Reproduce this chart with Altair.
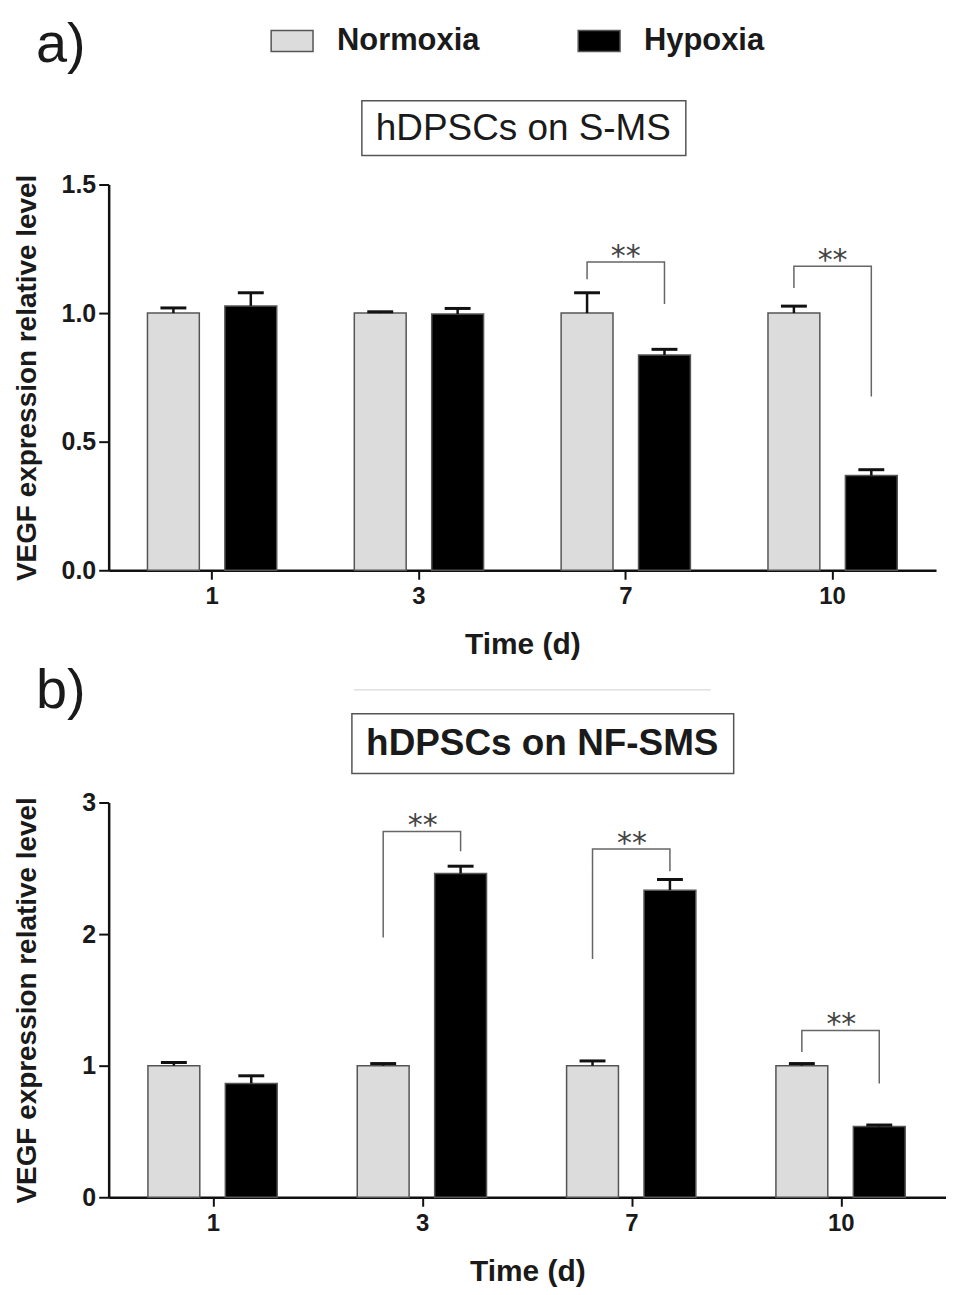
import altair as alt
import pandas as pd

# ---------------- data ----------------
days = ["1", "3", "7", "10"]
groups = ["Normoxia", "Hypoxia"]

a_normoxia = [1.00, 1.00, 1.00, 1.00]
a_normoxia_err = [0.020, 0.005, 0.079, 0.027]
a_hypoxia = [1.028, 0.996, 0.837, 0.368]
a_hypoxia_err = [0.051, 0.022, 0.022, 0.023]

b_normoxia = [1.00, 1.00, 1.00, 1.00]
b_normoxia_err = [0.025, 0.016, 0.036, 0.016]
b_hypoxia = [0.865, 2.46, 2.334, 0.537]
b_hypoxia_err = [0.058, 0.056, 0.081, 0.012]

# significance brackets: left leg bottom, bracket top, right leg bottom
a_sig_days = ["7", "10"]
a_sig_left = [1.132, 1.098]
a_sig_top = [1.199, 1.182]
a_sig_right = [1.035, 0.676]

b_sig_days = ["3", "7", "10"]
b_sig_left = [1.974, 1.81, 1.104]
b_sig_top = [2.78, 2.647, 1.268]
b_sig_right = [2.63, 2.478, 0.865]

a_ticks = [0.0, 0.5, 1.0, 1.5]
b_ticks = [0, 1, 2, 3]

FONT = "Liberation Sans"


def bar_table(nv, ne, hv, he):
    rows = []
    for i, d in enumerate(days):
        rows.append({"day": d, "group": "Normoxia", "value": nv[i], "upper": nv[i] + ne[i]})
        rows.append({"day": d, "group": "Hypoxia", "value": hv[i], "upper": hv[i] + he[i]})
    return pd.DataFrame(rows)


def bracket_table(sd, sl, st, sr):
    rows = []
    for i, d in enumerate(sd):
        rows.append({"id": i, "day": d, "group": "Normoxia", "value": sl[i], "o": 0})
        rows.append({"id": i, "day": d, "group": "Normoxia", "value": st[i], "o": 1})
        rows.append({"id": i, "day": d, "group": "Hypoxia", "value": st[i], "o": 2})
        rows.append({"id": i, "day": d, "group": "Hypoxia", "value": sr[i], "o": 3})
    return pd.DataFrame(rows)


def one():
    return pd.DataFrame({"k": [0]})


letter_y = {"a)": -140, "b)": -112}


def panel(bars, brackets, stars, ymax, ticks, fmt, w, h, letter, title, title_bold,
          box, title_xy, show_legend, extra_rule=None):
    x_enc = alt.X("day:N", sort=days,
                  scale=alt.Scale(domain=days, paddingInner=0.375, paddingOuter=0.1875),
                  axis=alt.Axis(title="Time (d)", labelAngle=0, titleFontSize=30,
                                titleX=w / 2, titleY=84, titleBaseline="alphabetic",
                                titleAlign="center", labelPadding=5, tickSize=9,
                                labelFontSize=24))
    xo_enc = alt.XOffset("group:N", sort=groups,
                         scale=alt.Scale(domain=groups, paddingInner=0.33, paddingOuter=0))
    y_axis = alt.Axis(title="VEGF expression relative level", values=ticks, format=fmt,
                      titleFontSize=28, titleX=-73, titleY=h / 2, titleAngle=270,
                      titleBaseline="alphabetic", titleAlign="center",
                      labelPadding=3, tickSize=10, labelFontSize=25)
    y_scale = alt.Scale(domain=[0, ymax], nice=False, zero=True)

    if show_legend:
        legend = alt.Legend(title=None, orient="none", legendX=162, legendY=-166,
                            direction="horizontal",
                            symbolType="M-1,-0.5H1V0.5H-1Z", symbolSize=1764,
                            symbolStrokeColor="#555555", symbolStrokeWidth=1.5,
                            symbolOpacity=1, labelFont=FONT, labelFontWeight="bold",
                            labelFontSize=31, labelColor="#1a1a1a", labelOffset=23,
                            columnPadding=96)
    else:
        legend = None
    color = alt.Color("group:N", sort=groups,
                      scale=alt.Scale(domain=groups, range=["#dcdcdc", "#000000"]),
                      legend=legend)

    bar_layer = alt.Chart(bars).mark_bar(stroke="#555555", strokeWidth=1.5, opacity=1).encode(
        x=x_enc, xOffset=xo_enc,
        y=alt.Y("value:Q", scale=y_scale, axis=y_axis),
        color=color,
    )
    err_layer = alt.Chart(bars).mark_rule(color="#111111", strokeWidth=2.5).encode(
        x=x_enc, xOffset=xo_enc,
        y=alt.Y("value:Q", scale=y_scale, axis=y_axis),
        y2="upper:Q",
    )
    cap_layer = alt.Chart(bars).mark_tick(color="#111111", thickness=3, size=26,
                                          orient="horizontal", opacity=1).encode(
        x=x_enc, xOffset=xo_enc,
        y=alt.Y("upper:Q", scale=y_scale, axis=y_axis),
    )
    bracket_layer = alt.Chart(brackets).mark_line(color="#666666", strokeWidth=1.5).encode(
        x=x_enc, xOffset=xo_enc,
        y=alt.Y("value:Q", scale=y_scale, axis=y_axis),
        detail="id:N", order="o:Q",
    )
    star_layer = alt.Chart(stars).mark_text(text="**", font="DejaVu Sans", fontSize=30,
                                            color="#444444", baseline="alphabetic",
                                            align="center", dy=4).encode(
        x=x_enc,
        y=alt.Y("value:Q", scale=y_scale, axis=y_axis),
    )
    box_layer = alt.Chart(one()).mark_rect(fill="white", stroke="#555555",
                                           strokeWidth=1.5).encode(
        x=alt.value(box[0]), x2=alt.value(box[1]),
        y=alt.value(box[2]), y2=alt.value(box[3]),
    )
    title_layer = alt.Chart(one()).mark_text(
        text=title, font=FONT, fontSize=37,
        fontWeight="bold" if title_bold else "normal", color="#1a1a1a",
        align="center", baseline="middle").encode(
        x=alt.value(title_xy[0]), y=alt.value(title_xy[1]))
    letter_layer = alt.Chart(one()).mark_text(
        text=letter, font=FONT, fontSize=56, fontWeight="normal", color="#1a1a1a",
        align="center", baseline="middle").encode(
        x=alt.value(-48), y=alt.value(letter_y[letter]))

    layers = [bar_layer, err_layer, cap_layer, bracket_layer, star_layer,
              box_layer, title_layer, letter_layer]
    if extra_rule is not None:
        layers.append(alt.Chart(one()).mark_rule(color="#d0d0d0", strokeWidth=1).encode(
            x=alt.value(extra_rule[0]), x2=alt.value(extra_rule[1]),
            y=alt.value(extra_rule[2])))
    return alt.layer(*layers).properties(width=w, height=h)


bars_a = bar_table(a_normoxia, a_normoxia_err, a_hypoxia, a_hypoxia_err)
bars_b = bar_table(b_normoxia, b_normoxia_err, b_hypoxia, b_hypoxia_err)
br_a = bracket_table(a_sig_days, a_sig_left, a_sig_top, a_sig_right)
br_b = bracket_table(b_sig_days, b_sig_left, b_sig_top, b_sig_right)
st_a = pd.DataFrame({"day": a_sig_days, "value": a_sig_top})
st_b = pd.DataFrame({"day": b_sig_days, "value": b_sig_top})

chart_a = panel(bars_a, br_a, st_a, 1.5, a_ticks, ".1f", 830, 387, "a)",
                "hDPSCs on S-MS", False, (254, 579, -84, -29), (416, -56), True)
chart_b = panel(bars_b, br_b, st_b, 3, b_ticks, "d", 840, 396, "b)",
                "hDPSCs on NF-SMS", True, (244, 627, -89, -29), (435, -59), False,
                extra_rule=(246, 604, -113))

chart = alt.vconcat(chart_a, chart_b, spacing=233, bounds="flush").resolve_scale(
    color="independent"
).properties(
    padding={"left": 5, "top": 7, "right": 0, "bottom": 5},
    background="white",
).configure_view(stroke=None).configure_axis(
    domainColor="#111111", domainWidth=2.5, tickColor="#111111", tickWidth=2,
    labelFont=FONT, labelFontWeight="bold", labelColor="#1a1a1a",
    titleFont=FONT, titleFontWeight="bold", titleColor="#1a1a1a", grid=False,
)

chart.save("out.html", embed_options={"renderer": "svg", "actions": False})
